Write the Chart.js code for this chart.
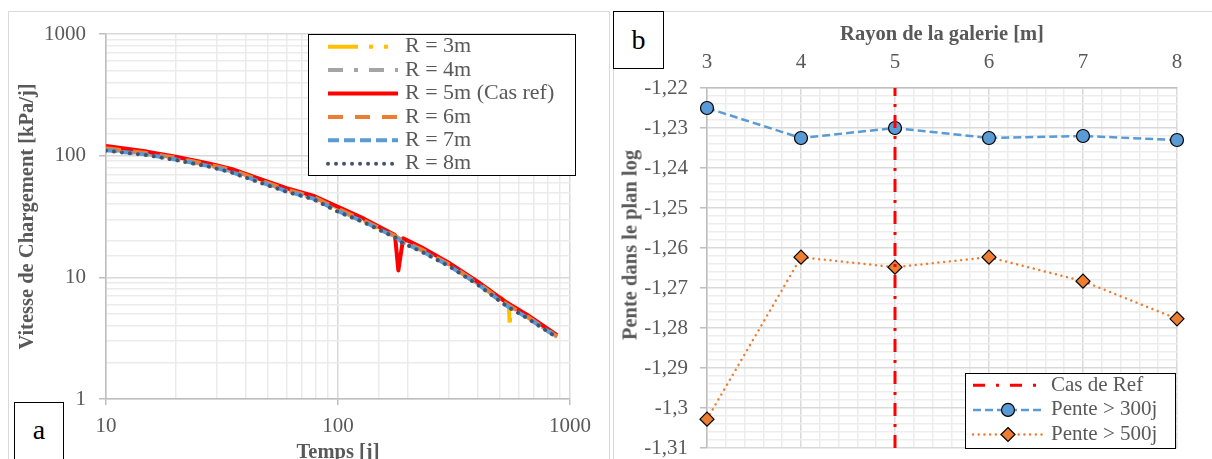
<!DOCTYPE html>
<html>
<head>
<meta charset="utf-8">
<title>Vitesse de chargement et pente</title>
<script src="https://cdn.jsdelivr.net/npm/chart.js"></script>
<style>
  body { margin:0; background:#fff; width:1212px; height:459px; overflow:hidden; position:relative; font-family:'Liberation Serif', serif; }
  .panel { position:absolute; border:1px solid #d9d9d9; box-sizing:border-box; }
  .tag { position:absolute; border:1px solid #000; background:#fff; font-size:28px; text-align:center; box-sizing:border-box; color:#000; }
  canvas { position:absolute; top:0; }
  #titleB { position:absolute; left:630px; top:245px; transform:translate(-50%,-50%) rotate(-90deg);
            font:bold 20.5px 'Liberation Serif'; color:#595959; white-space:nowrap; }
</style>
</head>
<body>
<div class="panel" style="left:8px;top:11px;width:602px;height:460px"></div>
<div class="panel" style="left:613px;top:11px;width:610px;height:460px"></div>
<canvas id="chartA" width="610" height="459" style="left:0"></canvas>
<canvas id="chartB" width="600" height="459" style="left:612px"></canvas>
<div class="tag" style="left:14px;top:402px;width:50px;height:70px;line-height:54px">a</div>
<div class="tag" style="left:613px;top:11px;width:51px;height:58px;line-height:56px">b</div>
<div id="titleB">Pente dans le plan log</div>

<script>
    // --- (a) vitesse de chargement [kPa/j] vs temps [j], log-log ---
    const tempsCommun = [10, 15, 20, 28, 35, 45, 60, 78, 100, 130, 176, 190, 230, 300, 400, 533, 650, 880];

    const tR3 = [10, 15, 20, 28, 35, 45, 60, 78, 100, 130, 176, 186, 230, 300, 400, 500, 545, 550, 553, 560, 650, 880];
    const vR3 = [117, 106, 97, 86, 77.5, 65, 53, 46, 37, 29.5, 22, 20.5, 17.2, 13, 9.1, 6.9, 5.95, 3.85, 5.2, 5.75, 4.9, 3.3];
    const vR4 = [113, 103, 94, 83, 74, 63, 51.5, 45, 35.5, 28.8, 21.7, 19.6, 16.6, 12.6, 8.9, 5.9, 4.75, 3.24];
    const tR5 = [10, 15, 20, 28, 35, 45, 60, 78, 100, 130, 176, 182, 191, 230, 300, 400, 533, 650, 880];
    const vR5 = [120, 108, 98, 86, 77.5, 65.5, 54, 47, 38, 30.2, 22.3, 11.4, 20.9, 17.6, 13.2, 9.2, 6.2, 4.95, 3.35];
    const vR6 = [115, 105, 96, 84, 76, 64, 52.5, 46, 36.5, 29.2, 21.9, 19.8, 16.9, 12.8, 9.0, 6.0, 4.8, 3.27];
    const vR7 = [111, 102, 93, 82, 73, 62, 51, 44.5, 35, 28.5, 21.5, 19.4, 16.4, 12.5, 8.8, 5.85, 4.7, 3.22];
    const vR8 = [110, 101, 92, 81, 72.5, 61, 50.5, 44, 34.6, 28.2, 21.3, 19.2, 16.2, 12.4, 8.7, 5.8, 4.65, 3.2];

    // --- (b) pente dans le plan log vs rayon de la galerie [m] ---
    const rayons = [3, 4, 5, 6, 7, 8];
    const pente300 = [-1.2250, -1.2325, -1.2300, -1.2325, -1.2320, -1.2330];
    const pente500 = [-1.3028, -1.2623, -1.2648, -1.2623, -1.2683, -1.2777];
    const rayonRef = 5;
    const bornesPente = [-1.31, -1.22];

    const GREY = '#595959';
    const pts = (t, v) => t.map((x, i) => ({x: x, y: v[i]}));
    const isPow10 = v => Math.abs(Math.log10(v) - Math.round(Math.log10(v))) < 1e-9;

    function drawMarker(ctx, ds, x, y) {
      const r = ds.pointRadius;
      ctx.beginPath();
      if (ds.pointStyle === 'rectRot') {
        ctx.moveTo(x, y - r); ctx.lineTo(x + r, y); ctx.lineTo(x, y + r); ctx.lineTo(x - r, y); ctx.closePath();
      } else {
        ctx.arc(x, y, r, 0, Math.PI * 2);
      }
      ctx.fillStyle = ds.pointBackgroundColor; ctx.fill();
      ctx.lineWidth = ds.pointBorderWidth; ctx.strokeStyle = ds.pointBorderColor; ctx.stroke();
    }

    // framed legend drawn on the canvas, like the Excel one
    const boxLegend = {
      id: 'boxLegend',
      afterDraw(chart, args, o) {
        const ctx = chart.ctx;
        ctx.save();
        ctx.fillStyle = '#ffffff';
        ctx.fillRect(o.x, o.y, o.w, o.h);
        ctx.strokeStyle = '#000000';
        ctx.lineWidth = 1;
        ctx.strokeRect(o.x + 0.5, o.y + 0.5, o.w, o.h);
        ctx.font = o.font;
        ctx.textBaseline = 'middle';
        chart.data.datasets.forEach((ds, i) => {
          const cy = o.y + o.padTop + o.rowH * (i + 0.5);
          const x0 = o.x + o.padLeft, x1 = x0 + o.sample;
          ctx.strokeStyle = ds.borderColor;
          ctx.lineWidth = ds.borderWidth;
          ctx.lineCap = ds.borderCapStyle || 'butt';
          ctx.setLineDash(ds.legendDash || ds.borderDash || []);
          ctx.beginPath(); ctx.moveTo(x0, cy); ctx.lineTo(x1, cy); ctx.stroke();
          ctx.setLineDash([]);
          ctx.lineCap = 'butt';
          if (ds.pointRadius > 0) drawMarker(ctx, ds, (x0 + x1) / 2, cy);
          ctx.fillStyle = GREY;
          ctx.fillText(ds.label, x1 + o.gap, cy);
        });
        ctx.restore();
      }
    };

    const serie = (label, data, color, dash, extra) => Object.assign({
      label: label, data: data, borderColor: color, backgroundColor: color,
      borderWidth: 4, borderDash: dash, borderJoinStyle: 'round',
      pointRadius: 0, tension: 0, fill: false
    }, extra || {});

    new Chart(document.getElementById('chartA'), {
      type: 'line',
      data: {
        datasets: [
          serie('R = 3m', pts(tR3, vR3), '#FFC000', [30, 11, 4, 11, 4, 11], {order: 5}),
          serie('R = 4m', pts(tempsCommun, vR4), '#A5A5A5', [15, 11, 4, 11], {order: 4}),
          serie('R = 5m (Cas ref)', pts(tR5, vR5), '#FF0000', [], {order: 3}),
          serie('R = 6m', pts(tempsCommun, vR6), '#ED7D31', [15, 12], {order: 2}),
          serie('R = 7m', pts(tempsCommun, vR7), '#5B9BD5', [11, 5], {order: 1}),
          serie('R = 8m', pts(tempsCommun, vR8), '#44546A', [0.01, 8], {order: 0, borderCapStyle: 'round'})
        ]
      },
      options: {
        responsive: false,
        animation: false,
        layout: { padding: { top: 34, right: 40, left: 0, bottom: 0 } },
        plugins: {
          legend: { display: false },
          tooltip: { enabled: false },
          boxLegend: { x: 308, y: 34, w: 267, h: 141, padTop: 1, rowH: 23.4, padLeft: 20, sample: 70, gap: 7,
                       font: "22px 'Liberation Serif'" }
        },
        scales: {
          x: {
            type: 'logarithmic', min: 10, max: 1000,
            afterFit: s => { s.height = 60; },
            ticks: { autoSkip: false, maxRotation: 0, padding: 9, color: GREY, font: { family: 'Liberation Serif', size: 21 },
                     callback: v => isPow10(v) ? String(v) : '' },
            grid: { lineWidth: 1.5, tickLength: 6,
                    color: c => isPow10(c.tick.value) ? '#d9d9d9' : '#ebebeb',
                    tickColor: c => isPow10(c.tick.value) ? '#bfbfbf' : 'rgba(0,0,0,0)' },
            border: { color: '#bfbfbf', width: 1.5 },
            title: { display: true, text: 'Temps [j]', color: GREY, padding: { bottom: -6 },
                     font: { family: 'Liberation Serif', size: 20.5, weight: 'bold' } }
          },
          y: {
            type: 'logarithmic', min: 1, max: 1000,
            afterFit: s => { s.width = 106; },
            ticks: { autoSkip: false, padding: 13, color: GREY, font: { family: 'Liberation Serif', size: 21 },
                     callback: v => isPow10(v) ? String(v) : '' },
            grid: { lineWidth: 1.5, tickLength: 7,
                    color: c => isPow10(c.tick.value) ? '#d9d9d9' : '#ebebeb',
                    tickColor: c => isPow10(c.tick.value) ? '#bfbfbf' : 'rgba(0,0,0,0)' },
            border: { color: '#bfbfbf', width: 1.5 },
            title: { display: true, text: 'Vitesse de Chargement [kPa/j]', color: GREY, padding: { top: 15 },
                     font: { family: 'Liberation Serif', size: 20.5, weight: 'bold' } }
          }
        }
      },
      plugins: [boxLegend]
    });

    const isMaj = (v, k) => Math.abs(v * k - Math.round(v * k)) < 1e-6;

    new Chart(document.getElementById('chartB'), {
      type: 'line',
      data: {
        datasets: [
          { label: 'Cas de Ref', data: bornesPente.map(y => ({x: rayonRef, y: y})),
            borderColor: '#FF0000', borderWidth: 3, borderDash: [13, 8, 3, 8], legendDash: [12, 11, 3, 11],
            pointRadius: 0, clip: false },
          { label: 'Pente > 300j', data: pts(rayons, pente300),
            borderColor: '#5B9BD5', borderWidth: 2.5, borderDash: [8, 4],
            pointStyle: 'circle', pointRadius: 6.5, pointBackgroundColor: '#5B9BD5',
            pointBorderColor: '#000000', pointBorderWidth: 1.2, clip: false },
          { label: 'Pente > 500j', data: pts(rayons, pente500),
            borderColor: '#ED7D31', borderWidth: 2.5, borderDash: [0.01, 5.7], borderCapStyle: 'round',
            pointStyle: 'rectRot', pointRadius: 7, pointBackgroundColor: '#ED7D31',
            pointBorderColor: '#000000', pointBorderWidth: 1.2, clip: false }
        ]
      },
      options: {
        responsive: false,
        animation: false,
        layout: { padding: { top: 0, right: 35, left: 0, bottom: 11 } },
        plugins: {
          legend: { display: false },
          tooltip: { enabled: false },
          boxLegend: { x: 353, y: 373, w: 210, h: 75, padTop: 0, rowH: 24.6, padLeft: 8, sample: 70, gap: 8,
                       font: "21px 'Liberation Serif'" }
        },
        scales: {
          x: {
            type: 'linear', position: 'top', min: 3, max: 8,
            afterFit: s => { s.height = 88; },
            ticks: { stepSize: 0.2, autoSkip: false, maxRotation: 0, padding: 13, color: GREY,
                     font: { family: 'Liberation Serif', size: 21 },
                     callback: v => isMaj(v, 1) ? String(Math.round(v)) : '' },
            grid: { lineWidth: 1.5, drawTicks: false,
                    color: c => isMaj(c.tick.value, 1) ? '#d9d9d9' : '#ededed' },
            border: { color: '#bfbfbf', width: 1.5 },
            title: { display: true, text: 'Rayon de la galerie [m]', color: GREY, padding: { top: 22 },
                     font: { family: 'Liberation Serif', size: 20.5, weight: 'bold' } }
          },
          y: {
            type: 'linear', min: bornesPente[0], max: bornesPente[1],
            // fixed width, and no extra room reserved for the half-height of the end labels
            afterFit: s => { s.width = 95; s.paddingTop = 0; s.paddingBottom = 0; },
            ticks: { stepSize: 0.002, autoSkip: false, padding: 12, color: GREY,
                     font: { family: 'Liberation Serif', size: 21 },
                     callback: v => isMaj(v, 100) ? String(Math.round(v * 100) / 100).replace('.', ',') : '' },
            grid: { lineWidth: 1.5, tickLength: 7,
                    color: c => isMaj(c.tick.value, 100) ? '#d9d9d9' : '#ededed',
                    tickColor: c => isMaj(c.tick.value, 100) ? '#bfbfbf' : 'rgba(0,0,0,0)' },
            border: { color: '#bfbfbf', width: 1.5 }
          }
        }
      },
      plugins: [boxLegend]
    });
</script>
</body>
</html>
